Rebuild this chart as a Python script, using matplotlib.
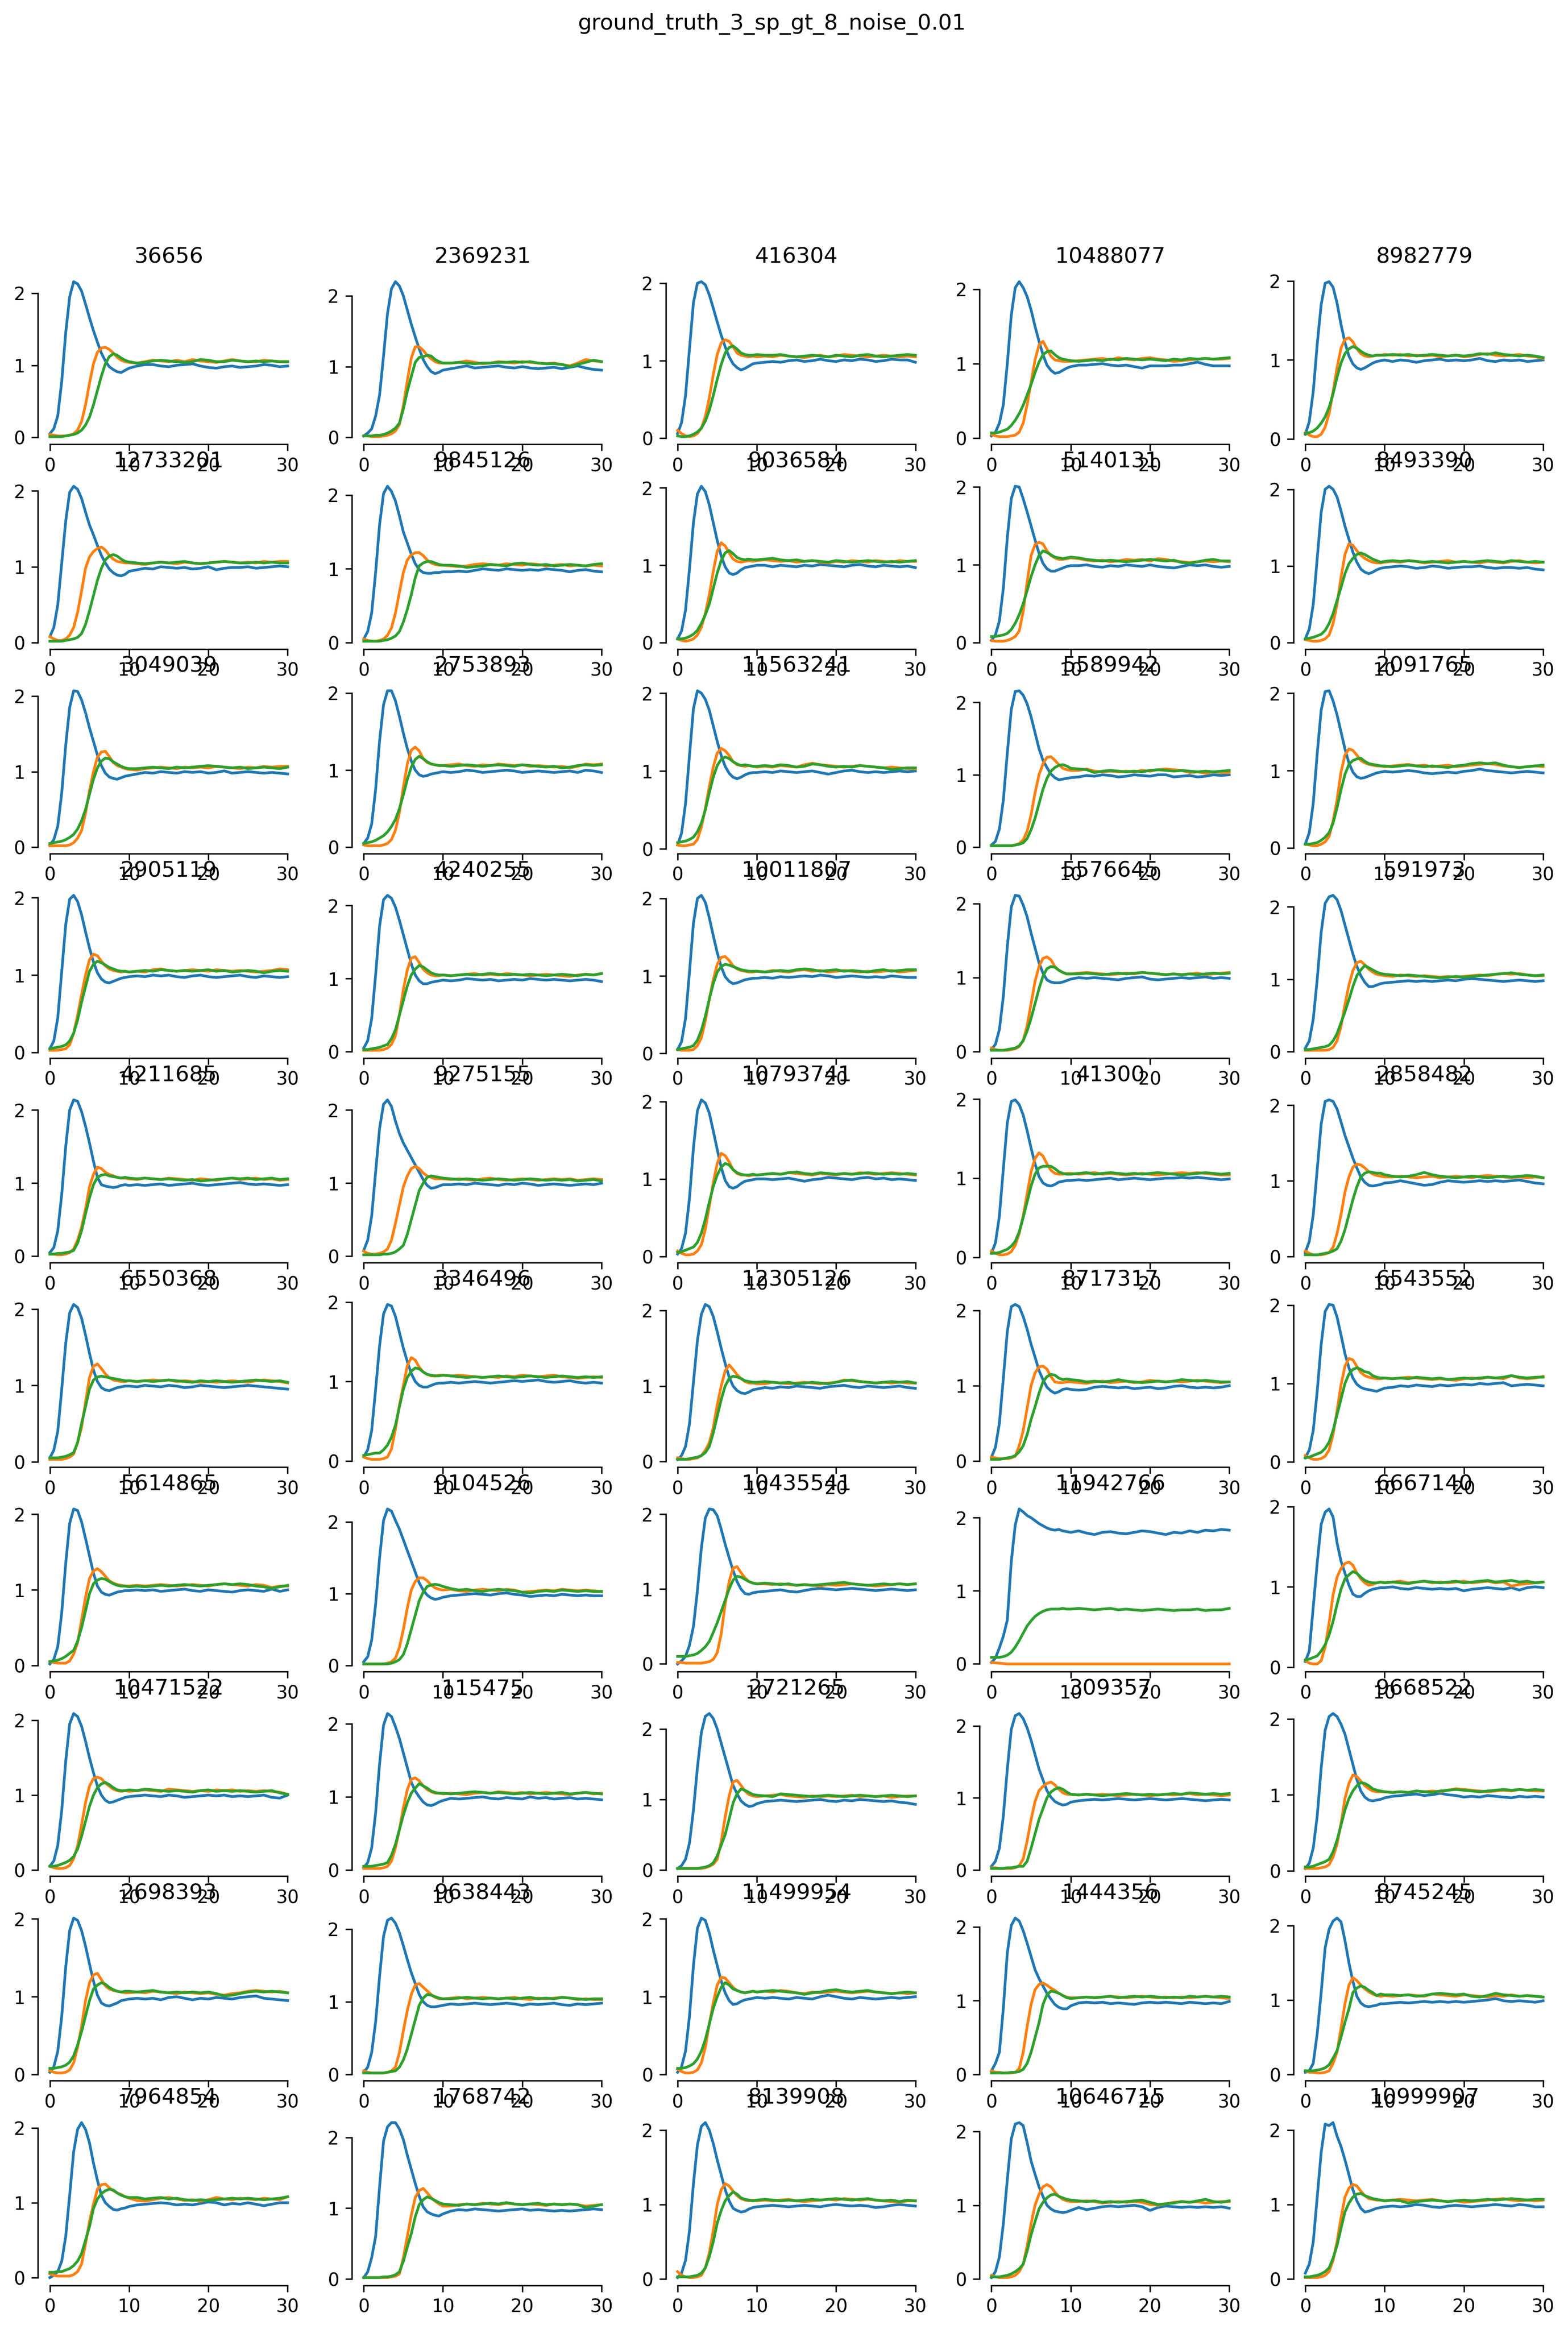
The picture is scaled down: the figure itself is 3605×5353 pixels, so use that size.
import matplotlib
matplotlib.use("Agg")
import matplotlib.pyplot as plt
import seaborn as sns

# ----------------- Data -----------------
titles = ["36656", "2369231", "416304", "10488077", "8982779",
          "12733201", "9845126", "9036584", "5140131", "8493390",
          "3049039", "2753893", "11563241", "5589942", "2091765",
          "2905119", "4240255", "10011807", "5576645", "591973",
          "4211685", "9275155", "10793741", "41300", "2858482",
          "6550368", "3346496", "12305126", "8717317", "6543552",
          "5614865", "9104526", "10435541", "11942766", "6667140",
          "10471522", "115475", "2721265", "309357", "9668522",
          "2698393", "9638443", "11499954", "1444356", "8745245",
          "7964854", "1768742", "8139908", "10646715", "10999907"]

# sample times: fine steps during the transient, then one per time unit
t_rise = [0, 0.5, 1, 1.5, 2, 2.5, 3, 3.5, 4, 4.5, 5, 5.5, 6, 6.5, 7, 7.5, 8, 8.5, 9, 9.5, 10]
t_tail = [11, 12, 13, 14, 15, 16, 17, 18, 19, 20, 21, 22, 23, 24, 25, 26, 27, 28, 29, 30]

blue_rise = [
    [0.05, 0.12, 0.3, 0.78, 1.45, 1.95, 2.16, 2.13, 2.03, 1.85, 1.66, 1.48, 1.32, 1.17, 1.06, 0.98, 0.94, 0.91, 0.90, 0.93, 0.96],
    [0.02, 0.06, 0.12, 0.3, 0.6, 1.15, 1.75, 2.1, 2.2, 2.14, 2.0, 1.8, 1.6, 1.42, 1.25, 1.1, 1.0, 0.93, 0.9, 0.92, 0.95],
    [0.06, 0.2, 0.55, 1.15, 1.75, 2.0, 2.02, 1.98, 1.85, 1.68, 1.5, 1.33, 1.18, 1.05, 0.96, 0.91, 0.88, 0.9, 0.93, 0.96, 0.97],
    [0.03, 0.08, 0.2, 0.45, 1.0, 1.65, 2.02, 2.1, 2.02, 1.9, 1.72, 1.5, 1.3, 1.12, 0.98, 0.91, 0.87, 0.88, 0.91, 0.94, 0.96],
    [0.06, 0.22, 0.6, 1.2, 1.7, 1.97, 1.99, 1.92, 1.72, 1.45, 1.22, 1.05, 0.95, 0.9, 0.88, 0.9, 0.93, 0.96, 0.98, 0.99, 1.0],
    [0.08, 0.2, 0.5, 1.05, 1.6, 1.98, 2.06, 2.02, 1.9, 1.72, 1.55, 1.42, 1.28, 1.15, 1.05, 0.97, 0.92, 0.89, 0.88, 0.9, 0.94],
    [0.05, 0.15, 0.4, 0.95, 1.6, 2.02, 2.12, 2.05, 1.92, 1.72, 1.5, 1.35, 1.2, 1.07, 0.99, 0.95, 0.94, 0.94, 0.95, 0.95, 0.96],
    [0.05, 0.15, 0.42, 0.95, 1.55, 1.92, 2.02, 1.95, 1.78, 1.55, 1.32, 1.12, 0.98, 0.9, 0.88, 0.9, 0.94, 0.97, 0.98, 0.99, 1.0],
    [0.03, 0.1, 0.28, 0.7, 1.35, 1.85, 2.01, 2.0, 1.85, 1.68, 1.5, 1.32, 1.15, 1.02, 0.95, 0.92, 0.92, 0.94, 0.96, 0.98, 0.99],
    [0.05, 0.18, 0.5, 1.1, 1.7, 2.0, 2.04, 2.0, 1.9, 1.72, 1.52, 1.35, 1.18, 1.05, 0.96, 0.92, 0.9, 0.92, 0.95, 0.97, 0.98],
    [0.03, 0.1, 0.28, 0.72, 1.35, 1.85, 2.07, 2.06, 1.95, 1.78, 1.58, 1.4, 1.22, 1.08, 0.98, 0.93, 0.91, 0.9, 0.92, 0.94, 0.95],
    [0.05, 0.12, 0.3, 0.75, 1.38, 1.85, 2.03, 2.03, 1.9, 1.7, 1.48, 1.28, 1.12, 1.0, 0.94, 0.92, 0.93, 0.95, 0.96, 0.97, 0.98],
    [0.05, 0.2, 0.58, 1.2, 1.8, 2.03, 2.0, 1.92, 1.78, 1.58, 1.38, 1.2, 1.06, 0.97, 0.92, 0.9, 0.92, 0.95, 0.97, 0.98, 0.98],
    [0.03, 0.08, 0.25, 0.65, 1.3, 1.9, 2.15, 2.16, 2.1, 1.98, 1.8, 1.58, 1.36, 1.2, 1.1, 1.01, 0.96, 0.93, 0.94, 0.95, 0.96],
    [0.05, 0.2, 0.58, 1.22, 1.78, 2.02, 2.03, 1.9, 1.72, 1.5, 1.28, 1.1, 0.98, 0.92, 0.9, 0.91, 0.93, 0.95, 0.97, 0.98, 0.99],
    [0.05, 0.15, 0.45, 1.05, 1.65, 1.98, 2.03, 1.95, 1.78, 1.56, 1.35, 1.17, 1.03, 0.95, 0.91, 0.9, 0.92, 0.94, 0.96, 0.97, 0.98],
    [0.05, 0.15, 0.45, 1.05, 1.72, 2.08, 2.14, 2.1, 1.98, 1.8, 1.6, 1.4, 1.2, 1.05, 0.97, 0.93, 0.93, 0.95, 0.96, 0.97, 0.98],
    [0.05, 0.15, 0.45, 1.05, 1.68, 2.0, 2.04, 1.95, 1.75, 1.52, 1.3, 1.12, 0.99, 0.93, 0.9, 0.91, 0.93, 0.95, 0.96, 0.97, 0.97],
    [0.03, 0.1, 0.3, 0.75, 1.42, 1.95, 2.11, 2.1, 1.98, 1.82, 1.6, 1.4, 1.2, 1.06, 0.97, 0.94, 0.93, 0.93, 0.94, 0.96, 0.98],
    [0.05, 0.15, 0.45, 1.0, 1.65, 2.05, 2.14, 2.16, 2.1, 1.95, 1.75, 1.55, 1.35, 1.18, 1.05, 0.96, 0.9, 0.9, 0.92, 0.94, 0.95],
    [0.05, 0.12, 0.35, 0.85, 1.5, 2.0, 2.14, 2.12, 1.98, 1.78, 1.55, 1.3, 1.08, 0.98, 0.96, 0.95, 0.94, 0.95, 0.97, 0.98, 0.97],
    [0.08, 0.22, 0.55, 1.15, 1.75, 2.08, 2.14, 2.05, 1.85, 1.68, 1.55, 1.45, 1.35, 1.25, 1.15, 1.05, 0.97, 0.93, 0.94, 0.96, 0.98],
    [0.03, 0.1, 0.3, 0.75, 1.4, 1.88, 2.02, 1.98, 1.85, 1.62, 1.38, 1.15, 0.98, 0.9, 0.88, 0.9, 0.94, 0.97, 0.98, 0.99, 1.0],
    [0.05, 0.18, 0.52, 1.12, 1.7, 1.97, 1.99, 1.93, 1.8, 1.6, 1.38, 1.18, 1.02, 0.94, 0.91, 0.9, 0.92, 0.95, 0.96, 0.97, 0.97],
    [0.05, 0.2, 0.55, 1.15, 1.75, 2.05, 2.07, 2.05, 1.95, 1.78, 1.6, 1.45, 1.3, 1.17, 1.05, 0.98, 0.94, 0.93, 0.94, 0.95, 0.97],
    [0.05, 0.15, 0.4, 0.95, 1.55, 1.95, 2.06, 2.02, 1.88, 1.66, 1.42, 1.2, 1.05, 0.97, 0.94, 0.93, 0.95, 0.97, 0.98, 0.99, 0.99],
    [0.05, 0.14, 0.38, 0.9, 1.45, 1.85, 1.97, 1.95, 1.82, 1.62, 1.42, 1.25, 1.1, 1.0, 0.95, 0.93, 0.93, 0.95, 0.97, 0.98, 0.98],
    [0.03, 0.08, 0.2, 0.5, 1.05, 1.6, 1.95, 2.08, 2.05, 1.92, 1.72, 1.5, 1.3, 1.12, 1.0, 0.94, 0.91, 0.9, 0.92, 0.95, 0.96],
    [0.05, 0.18, 0.5, 1.1, 1.72, 2.05, 2.08, 2.05, 1.92, 1.75, 1.55, 1.38, 1.2, 1.08, 0.98, 0.93, 0.9, 0.92, 0.95, 0.96, 0.95],
    [0.05, 0.15, 0.4, 0.9, 1.5, 1.92, 2.01, 2.0, 1.85, 1.62, 1.38, 1.2, 1.07, 0.99, 0.95, 0.93, 0.92, 0.91, 0.9, 0.92, 0.94],
    [0.02, 0.08, 0.25, 0.7, 1.35, 1.88, 2.07, 2.05, 1.9, 1.68, 1.45, 1.22, 1.05, 0.97, 0.94, 0.93, 0.95, 0.97, 0.98, 0.99, 0.99],
    [0.05, 0.12, 0.35, 0.85, 1.5, 2.02, 2.18, 2.15, 2.02, 1.9, 1.75, 1.6, 1.45, 1.3, 1.15, 1.05, 0.98, 0.94, 0.92, 0.93, 0.95],
    [0.0, 0.04, 0.1, 0.25, 0.5, 0.98, 1.55, 1.95, 2.07, 2.06, 1.98, 1.8, 1.6, 1.42, 1.25, 1.1, 1.0, 0.94, 0.93, 0.95, 0.96],
    [0.02, 0.08, 0.22, 0.38, 0.6, 1.4, 1.9, 2.12, 2.08, 2.03, 2.0, 1.96, 1.92, 1.89, 1.86, 1.84, 1.83, 1.84, 1.82, 1.81, 1.8],
    [0.07, 0.2, 0.75, 1.3, 1.78, 1.93, 1.97, 1.87, 1.55, 1.32, 1.17, 1.02, 0.91, 0.88, 0.88, 0.92, 0.95, 0.97, 0.98, 0.99, 0.99],
    [0.05, 0.12, 0.33, 0.8, 1.45, 1.95, 2.09, 2.05, 1.92, 1.72, 1.5, 1.3, 1.12, 1.0, 0.93, 0.9, 0.91, 0.93, 0.95, 0.97, 0.98],
    [0.03, 0.1, 0.3, 0.78, 1.45, 1.98, 2.14, 2.1, 1.96, 1.8, 1.6, 1.4, 1.2, 1.08, 1.0, 0.93, 0.89, 0.88, 0.9, 0.93, 0.95],
    [0.02, 0.06, 0.15, 0.38, 0.85, 1.45, 1.95, 2.18, 2.22, 2.15, 2.0, 1.8, 1.6, 1.4, 1.2, 1.08, 0.98, 0.93, 0.9, 0.91, 0.94],
    [0.05, 0.12, 0.3, 0.75, 1.4, 1.95, 2.14, 2.17, 2.1, 1.97, 1.8, 1.6, 1.4, 1.25, 1.1, 1.01, 0.95, 0.92, 0.9, 0.91, 0.94],
    [0.03, 0.1, 0.3, 0.72, 1.35, 1.85, 2.03, 2.07, 2.03, 1.93, 1.8, 1.6, 1.4, 1.2, 1.05, 0.97, 0.93, 0.92, 0.93, 0.94, 0.96],
    [0.03, 0.1, 0.3, 0.75, 1.38, 1.85, 2.01, 1.98, 1.85, 1.65, 1.42, 1.2, 1.02, 0.92, 0.89, 0.88, 0.9, 0.92, 0.95, 0.96, 0.97],
    [0.03, 0.1, 0.3, 0.72, 1.35, 1.9, 2.12, 2.15, 2.08, 1.95, 1.77, 1.58, 1.4, 1.25, 1.1, 1.0, 0.95, 0.93, 0.93, 0.94, 0.95],
    [0.03, 0.1, 0.3, 0.75, 1.4, 1.88, 2.01, 1.98, 1.82, 1.6, 1.4, 1.2, 1.05, 0.95, 0.9, 0.91, 0.94, 0.96, 0.97, 0.98, 0.99],
    [0.05, 0.15, 0.3, 0.9, 1.65, 2.02, 2.12, 2.08, 1.95, 1.78, 1.6, 1.42, 1.3, 1.2, 1.1, 1.02, 0.95, 0.91, 0.89, 0.89, 0.93],
    [0.03, 0.05, 0.15, 0.55, 1.1, 1.7, 1.95, 2.06, 2.1, 2.05, 1.8, 1.5, 1.25, 1.05, 0.96, 0.92, 0.91, 0.92, 0.93, 0.95, 0.95],
    [0.0, 0.03, 0.08, 0.22, 0.55, 1.1, 1.68, 1.98, 2.07, 1.98, 1.8, 1.53, 1.3, 1.1, 1.0, 0.95, 0.91, 0.9, 0.92, 0.93, 0.95],
    [0.02, 0.1, 0.3, 0.6, 1.3, 1.95, 2.15, 2.21, 2.21, 2.12, 1.97, 1.75, 1.55, 1.35, 1.17, 1.02, 0.95, 0.92, 0.9, 0.89, 0.92],
    [0.02, 0.08, 0.25, 0.65, 1.28, 1.8, 2.05, 2.1, 2.0, 1.82, 1.6, 1.4, 1.2, 1.05, 0.95, 0.92, 0.9, 0.91, 0.94, 0.96, 0.97],
    [0.02, 0.1, 0.3, 0.75, 1.35, 1.9, 2.1, 2.12, 2.08, 1.85, 1.6, 1.42, 1.25, 1.12, 1.0, 0.95, 0.92, 0.91, 0.9, 0.91, 0.93],
    [0.08, 0.2, 0.5, 1.1, 1.7, 2.08, 2.06, 2.1, 1.92, 1.78, 1.6, 1.4, 1.2, 1.05, 0.95, 0.9, 0.91, 0.93, 0.95, 0.96, 0.97],
]

blue_tail = [
    [0.99, 1.01, 1.01, 0.99, 0.98, 1.00, 1.01, 1.02, 0.99, 0.97, 0.96, 0.98, 0.99, 0.97, 0.98, 0.99, 1.01, 1.00, 0.98, 0.99],
    [0.97, 0.99, 1.01, 0.98, 0.99, 1.0, 1.01, 0.99, 0.98, 1.0, 0.98, 0.97, 0.98, 0.99, 0.97, 0.99, 1.01, 0.98, 0.96, 0.95],
    [0.98, 0.99, 0.98, 1.0, 1.01, 0.99, 1.0, 1.02, 1.0, 0.99, 1.01, 1.0, 1.02, 1.01, 0.99, 1.0, 1.02, 1.01, 1.01, 0.98],
    [0.98, 0.98, 0.99, 1.0, 0.98, 0.97, 0.98, 0.96, 0.94, 0.97, 0.97, 0.97, 0.98, 0.98, 1.0, 1.02, 0.99, 0.97, 0.97, 0.97],
    [0.98, 1.0, 0.99, 0.97, 0.99, 1.0, 1.01, 0.99, 1.0, 0.99, 1.0, 1.02, 0.99, 0.98, 1.0, 0.99, 1.0, 0.98, 0.99, 1.0],
    [0.96, 0.98, 0.97, 1.0, 0.99, 0.98, 0.99, 0.97, 0.98, 1.0, 0.96, 0.98, 0.99, 0.99, 1.0, 0.98, 0.99, 1.0, 1.01, 1.0],
    [0.96, 0.97, 0.96, 0.98, 1.0, 0.99, 0.98, 1.0, 0.99, 0.98, 0.99, 0.98, 1.0, 0.99, 0.98, 0.96, 0.98, 0.99, 0.97, 0.96],
    [1.0, 0.98, 1.0, 0.99, 0.98, 1.0, 0.99, 1.01, 1.0, 0.99, 0.98, 1.0, 1.01, 0.99, 0.98, 1.0, 0.99, 0.98, 0.99, 0.97],
    [0.99, 1.0, 0.98, 0.97, 0.99, 0.98, 1.0, 0.99, 0.98, 1.0, 0.98, 0.97, 0.96, 0.98, 1.0, 0.99, 1.0, 0.98, 0.97, 0.98],
    [0.99, 1.0, 0.99, 0.97, 0.98, 1.0, 0.99, 0.97, 0.98, 0.99, 0.99, 1.0, 0.98, 0.97, 0.98, 0.98, 0.97, 0.98, 0.96, 0.95],
    [0.97, 0.99, 0.98, 1.0, 0.99, 0.98, 1.0, 0.99, 1.0, 0.98, 0.99, 1.01, 0.98, 0.99, 1.0, 0.99, 0.98, 0.99, 0.98, 0.97],
    [0.97, 0.98, 1.0, 0.99, 0.97, 0.98, 0.99, 1.0, 0.99, 0.97, 0.98, 0.99, 0.98, 0.97, 0.98, 0.99, 0.97, 1.0, 0.99, 0.97],
    [0.99, 0.98, 1.0, 0.99, 0.98, 0.99, 1.0, 0.98, 0.96, 0.98, 1.0, 1.01, 0.99, 0.98, 0.99, 0.98, 0.99, 1.0, 0.99, 1.0],
    [0.97, 0.99, 0.98, 1.0, 0.99, 0.97, 0.98, 1.0, 0.99, 0.98, 1.0, 1.0, 0.97, 0.98, 0.99, 0.97, 0.98, 1.0, 0.99, 1.0],
    [0.98, 0.99, 1.0, 0.99, 0.97, 0.96, 0.97, 0.98, 0.97, 0.99, 1.0, 1.02, 1.0, 0.99, 0.98, 0.97, 0.98, 0.99, 0.98, 0.97],
    [0.99, 0.98, 1.0, 0.99, 1.0, 0.98, 0.97, 0.99, 1.0, 0.98, 0.97, 0.98, 0.99, 1.0, 0.98, 0.97, 0.99, 0.98, 0.97, 0.98],
    [0.97, 0.98, 1.0, 0.99, 0.98, 0.99, 0.97, 0.98, 0.99, 0.98, 1.0, 0.99, 0.98, 0.99, 0.98, 0.97, 0.98, 0.99, 0.98, 0.96],
    [0.98, 0.97, 0.99, 0.98, 0.99, 1.0, 0.99, 1.01, 1.0, 0.98, 0.99, 1.0, 0.99, 0.98, 0.99, 0.98, 1.0, 0.99, 0.98, 0.98],
    [1.0, 0.99, 1.0, 0.99, 0.98, 0.97, 0.99, 1.0, 1.01, 0.98, 0.97, 0.98, 0.99, 1.0, 0.99, 1.0, 1.01, 0.99, 1.0, 0.99],
    [0.96, 0.97, 0.98, 0.97, 0.98, 0.97, 0.98, 0.99, 0.98, 1.0, 1.01, 1.0, 0.99, 0.98, 0.97, 0.98, 0.99, 0.98, 0.97, 0.98],
    [0.98, 0.97, 0.98, 0.99, 0.97, 0.98, 0.99, 1.0, 0.98, 0.97, 0.98, 0.99, 1.0, 1.01, 0.99, 0.98, 0.99, 0.98, 0.97, 0.98],
    [0.98, 0.99, 0.98, 1.0, 0.99, 0.98, 0.97, 0.99, 0.98, 1.0, 0.99, 0.97, 0.98, 0.99, 0.98, 0.97, 0.98, 0.99, 0.98, 1.0],
    [1.0, 0.99, 1.0, 1.01, 0.99, 0.97, 0.99, 1.0, 1.02, 1.01, 1.0, 0.99, 1.01, 1.02, 1.0, 1.01, 0.99, 1.0, 0.99, 0.98],
    [0.98, 0.97, 0.98, 0.99, 1.0, 0.98, 0.99, 1.0, 0.99, 0.98, 0.99, 1.0, 1.0, 1.01, 1.0, 1.01, 1.0, 0.99, 0.98, 0.99],
    [0.98, 1.0, 0.98, 0.96, 0.94, 0.95, 0.98, 1.0, 0.99, 0.98, 0.99, 1.0, 0.99, 1.0, 0.99, 1.0, 1.01, 0.99, 0.97, 0.96],
    [0.98, 1.0, 0.99, 0.98, 1.0, 0.99, 0.97, 0.98, 1.0, 0.99, 0.98, 0.97, 0.98, 0.99, 1.0, 0.99, 0.98, 0.97, 0.96, 0.95],
    [0.99, 0.98, 0.99, 1.0, 0.99, 0.98, 0.99, 1.0, 1.01, 1.0, 1.01, 1.02, 1.0, 0.99, 1.0, 1.01, 0.99, 0.98, 0.99, 0.98],
    [0.98, 0.97, 0.99, 0.98, 1.0, 0.99, 0.98, 0.97, 0.99, 1.0, 1.01, 0.99, 0.98, 1.0, 0.99, 0.98, 0.99, 1.0, 0.98, 0.97],
    [0.94, 0.95, 0.98, 0.99, 0.98, 0.97, 0.98, 0.96, 0.97, 0.98, 0.96, 0.97, 0.99, 1.0, 0.98, 0.97, 0.98, 0.97, 0.98, 1.0],
    [0.95, 0.97, 0.96, 0.98, 0.97, 0.96, 0.98, 0.97, 0.98, 0.99, 0.98, 1.0, 0.99, 1.0, 1.01, 0.97, 0.98, 0.99, 0.98, 0.97],
    [1.0, 0.99, 1.0, 0.98, 0.99, 1.0, 1.01, 0.99, 0.98, 1.0, 0.99, 0.98, 0.97, 0.99, 1.0, 0.99, 0.98, 1.01, 0.98, 1.0],
    [0.97, 0.98, 0.99, 1.0, 0.99, 0.98, 1.0, 1.01, 0.99, 0.98, 0.96, 0.97, 0.98, 0.97, 0.99, 0.98, 0.97, 0.98, 0.97, 0.97],
    [0.97, 0.98, 0.99, 0.97, 0.96, 0.98, 1.0, 1.01, 1.0, 0.99, 1.0, 1.01, 1.0, 0.99, 0.98, 0.99, 1.0, 0.99, 0.98, 0.99],
    [1.82, 1.79, 1.77, 1.8, 1.81, 1.79, 1.78, 1.8, 1.82, 1.81, 1.79, 1.77, 1.8, 1.79, 1.82, 1.8, 1.83, 1.82, 1.84, 1.83],
    [1.0, 0.98, 0.97, 0.99, 0.98, 0.97, 0.98, 0.97, 0.98, 0.95, 0.97, 0.98, 0.99, 0.98, 0.97, 0.99, 0.96, 0.99, 1.0, 0.99],
    [0.99, 1.0, 0.99, 0.98, 1.0, 0.99, 0.97, 0.98, 0.99, 1.0, 0.99, 1.0, 0.98, 0.99, 0.98, 0.99, 1.0, 0.97, 0.96, 1.0],
    [0.98, 0.97, 0.98, 0.99, 1.0, 0.98, 0.97, 0.99, 0.98, 0.97, 1.0, 0.98, 0.99, 0.97, 0.98, 0.99, 0.97, 0.98, 0.97, 0.96],
    [0.97, 0.98, 0.99, 0.98, 0.97, 0.98, 0.99, 1.0, 0.98, 0.97, 0.99, 0.98, 1.0, 0.99, 0.98, 0.97, 0.98, 0.96, 0.95, 0.93],
    [0.96, 0.97, 0.98, 0.97, 0.98, 0.99, 0.98, 0.97, 0.98, 0.99, 0.98, 0.97, 0.98, 0.99, 0.98, 0.97, 0.96, 0.97, 0.98, 0.97],
    [0.98, 0.99, 1.0, 1.01, 0.99, 1.0, 1.02, 1.0, 0.99, 0.97, 0.98, 0.97, 0.99, 0.98, 0.97, 0.96, 0.98, 0.97, 0.98, 0.97],
    [0.98, 0.97, 0.98, 0.96, 0.99, 1.0, 0.98, 0.96, 0.98, 0.97, 0.99, 0.98, 0.97, 0.99, 1.0, 1.01, 0.98, 0.97, 0.96, 0.95],
    [0.97, 0.96, 0.97, 0.98, 0.97, 0.96, 0.97, 0.98, 0.97, 0.95, 0.97, 0.96, 0.97, 0.98, 0.96, 0.95, 0.97, 0.96, 0.97, 0.98],
    [0.98, 0.99, 0.98, 0.97, 0.99, 0.98, 0.97, 1.0, 1.02, 1.0, 0.98, 0.97, 0.99, 0.98, 0.97, 0.98, 0.99, 0.98, 0.99, 1.0],
    [0.97, 0.98, 0.97, 0.98, 0.96, 0.97, 0.96, 0.95, 0.97, 0.98, 0.97, 0.98, 0.97, 0.96, 0.98, 0.97, 0.96, 0.97, 0.96, 0.99],
    [0.96, 0.97, 0.96, 0.97, 0.98, 0.97, 0.98, 0.97, 0.98, 0.97, 0.98, 0.99, 1.0, 1.02, 0.99, 0.98, 0.99, 0.98, 0.97, 0.99],
    [0.97, 0.98, 0.99, 1.0, 0.99, 0.97, 0.98, 0.97, 0.99, 1.01, 1.0, 0.97, 0.99, 0.98, 1.0, 0.98, 0.96, 0.98, 1.0, 1.0],
    [0.96, 0.98, 0.97, 0.99, 0.98, 0.97, 0.96, 0.97, 0.98, 0.99, 0.97, 0.98, 0.97, 0.96, 0.97, 0.96, 0.97, 0.98, 0.99, 0.98],
    [0.98, 0.99, 0.98, 0.97, 0.98, 0.99, 0.98, 0.97, 0.99, 1.0, 0.99, 0.98, 0.99, 0.98, 0.96, 0.97, 0.99, 1.0, 0.99, 0.98],
    [0.97, 0.94, 0.96, 0.98, 0.99, 0.98, 0.99, 1.0, 0.98, 0.93, 0.97, 0.99, 0.98, 0.97, 0.98, 0.97, 0.98, 0.97, 0.98, 0.96],
    [0.98, 0.97, 0.98, 1.0, 0.99, 0.97, 0.96, 0.98, 0.99, 0.98, 0.97, 0.98, 0.99, 1.0, 0.99, 0.98, 1.0, 0.99, 0.97, 0.97],
]

orange_rise = [
    [0.04, 0.03, 0.02, 0.02, 0.02, 0.03, 0.05, 0.1, 0.22, 0.45, 0.75, 1.02, 1.18, 1.24, 1.25, 1.22, 1.17, 1.11, 1.07, 1.05, 1.04],
    [0.02, 0.02, 0.01, 0.01, 0.01, 0.02, 0.03, 0.05, 0.09, 0.18, 0.45, 0.8, 1.12, 1.28, 1.28, 1.23, 1.16, 1.11, 1.07, 1.05, 1.05],
    [0.1, 0.06, 0.03, 0.02, 0.03, 0.06, 0.13, 0.28, 0.52, 0.82, 1.08, 1.23, 1.27, 1.25, 1.18, 1.1, 1.07, 1.06, 1.05, 1.06, 1.05],
    [0.05, 0.03, 0.02, 0.02, 0.02, 0.03, 0.04, 0.08, 0.2, 0.45, 0.75, 1.05, 1.25, 1.3, 1.2, 1.1, 1.05, 1.04, 1.03, 1.03, 1.03],
    [0.08, 0.05, 0.03, 0.03, 0.06, 0.15, 0.32, 0.6, 0.9, 1.15, 1.26, 1.28, 1.23, 1.14, 1.08, 1.05, 1.04, 1.05, 1.06, 1.06, 1.07],
    [0.08, 0.05, 0.03, 0.03, 0.05, 0.1, 0.2, 0.4, 0.68, 0.98, 1.13, 1.2, 1.24, 1.26, 1.22, 1.15, 1.1, 1.07, 1.06, 1.05, 1.05],
    [0.05, 0.03, 0.02, 0.02, 0.03, 0.05, 0.1, 0.2, 0.4, 0.68, 0.95, 1.12, 1.19, 1.22, 1.22, 1.18, 1.12, 1.08, 1.06, 1.05, 1.05],
    [0.05, 0.03, 0.02, 0.03, 0.05, 0.1, 0.2, 0.38, 0.62, 0.92, 1.18, 1.29, 1.25, 1.16, 1.08, 1.05, 1.04, 1.05, 1.06, 1.05, 1.06],
    [0.03, 0.02, 0.02, 0.02, 0.03, 0.05, 0.08, 0.15, 0.4, 0.78, 1.12, 1.26, 1.29, 1.27, 1.18, 1.12, 1.09, 1.07, 1.07, 1.08, 1.09],
    [0.04, 0.03, 0.02, 0.02, 0.03, 0.05, 0.1, 0.25, 0.5, 0.85, 1.15, 1.29, 1.27, 1.2, 1.14, 1.1, 1.07, 1.05, 1.04, 1.04, 1.05],
    [0.02, 0.02, 0.02, 0.02, 0.02, 0.03, 0.06, 0.12, 0.22, 0.45, 0.75, 1.0, 1.19, 1.26, 1.27, 1.2, 1.12, 1.08, 1.06, 1.04, 1.03],
    [0.03, 0.02, 0.02, 0.02, 0.02, 0.03, 0.05, 0.1, 0.22, 0.45, 0.78, 1.08, 1.26, 1.3, 1.25, 1.15, 1.1, 1.08, 1.07, 1.06, 1.06],
    [0.05, 0.04, 0.04, 0.05, 0.06, 0.12, 0.28, 0.52, 0.8, 1.05, 1.23, 1.29, 1.26, 1.2, 1.12, 1.08, 1.07, 1.06, 1.07, 1.06, 1.05],
    [0.02, 0.02, 0.02, 0.02, 0.02, 0.02, 0.03, 0.05, 0.1, 0.22, 0.45, 0.75, 1.0, 1.15, 1.24, 1.25, 1.2, 1.14, 1.09, 1.07, 1.06],
    [0.05, 0.04, 0.03, 0.03, 0.05, 0.08, 0.15, 0.35, 0.62, 0.98, 1.2, 1.28, 1.26, 1.2, 1.13, 1.1, 1.08, 1.07, 1.06, 1.06, 1.05],
    [0.03, 0.03, 0.03, 0.04, 0.05, 0.1, 0.25, 0.48, 0.75, 1.0, 1.2, 1.27, 1.25, 1.18, 1.12, 1.08, 1.06, 1.05, 1.04, 1.05, 1.04],
    [0.02, 0.02, 0.02, 0.02, 0.02, 0.03, 0.05, 0.1, 0.22, 0.5, 0.85, 1.12, 1.28, 1.3, 1.22, 1.13, 1.08, 1.05, 1.04, 1.04, 1.05],
    [0.05, 0.04, 0.04, 0.04, 0.05, 0.1, 0.2, 0.42, 0.7, 0.95, 1.15, 1.24, 1.25, 1.2, 1.13, 1.09, 1.07, 1.06, 1.05, 1.05, 1.06],
    [0.05, 0.03, 0.02, 0.02, 0.02, 0.03, 0.04, 0.07, 0.15, 0.35, 0.65, 0.95, 1.15, 1.26, 1.28, 1.24, 1.15, 1.1, 1.07, 1.05, 1.05],
    [0.02, 0.02, 0.02, 0.02, 0.02, 0.02, 0.03, 0.06, 0.15, 0.35, 0.65, 0.92, 1.12, 1.23, 1.25, 1.2, 1.14, 1.1, 1.07, 1.06, 1.05],
    [0.03, 0.03, 0.02, 0.02, 0.03, 0.05, 0.1, 0.22, 0.4, 0.65, 0.95, 1.12, 1.22, 1.2, 1.15, 1.12, 1.1, 1.08, 1.07, 1.07, 1.06],
    [0.07, 0.04, 0.03, 0.03, 0.04, 0.06, 0.1, 0.22, 0.45, 0.7, 0.95, 1.1, 1.2, 1.23, 1.2, 1.14, 1.1, 1.08, 1.06, 1.06, 1.06],
    [0.07, 0.04, 0.02, 0.02, 0.03, 0.07, 0.15, 0.35, 0.65, 0.95, 1.2, 1.33, 1.3, 1.22, 1.12, 1.07, 1.05, 1.05, 1.04, 1.05, 1.05],
    [0.08, 0.05, 0.03, 0.03, 0.04, 0.07, 0.15, 0.3, 0.52, 0.8, 1.08, 1.25, 1.32, 1.28, 1.18, 1.1, 1.06, 1.05, 1.05, 1.06, 1.06],
    [0.07, 0.04, 0.02, 0.02, 0.02, 0.03, 0.05, 0.12, 0.3, 0.55, 0.85, 1.05, 1.18, 1.22, 1.21, 1.17, 1.12, 1.09, 1.07, 1.06, 1.05],
    [0.03, 0.03, 0.03, 0.03, 0.04, 0.06, 0.1, 0.25, 0.45, 0.78, 1.1, 1.25, 1.28, 1.22, 1.15, 1.1, 1.07, 1.06, 1.05, 1.05, 1.06],
    [0.05, 0.03, 0.02, 0.02, 0.02, 0.03, 0.05, 0.15, 0.4, 0.7, 0.95, 1.2, 1.3, 1.27, 1.18, 1.12, 1.09, 1.07, 1.07, 1.08, 1.08],
    [0.05, 0.04, 0.03, 0.03, 0.04, 0.05, 0.08, 0.15, 0.25, 0.45, 0.75, 1.0, 1.2, 1.28, 1.22, 1.15, 1.1, 1.06, 1.04, 1.04, 1.03],
    [0.05, 0.04, 0.03, 0.03, 0.03, 0.04, 0.06, 0.2, 0.4, 0.7, 1.0, 1.17, 1.25, 1.26, 1.22, 1.12, 1.05, 1.04, 1.04, 1.05, 1.05],
    [0.08, 0.05, 0.03, 0.03, 0.04, 0.07, 0.15, 0.35, 0.65, 0.98, 1.22, 1.32, 1.3, 1.22, 1.14, 1.1, 1.08, 1.07, 1.06, 1.06, 1.07],
    [0.05, 0.04, 0.03, 0.03, 0.03, 0.06, 0.15, 0.3, 0.6, 0.9, 1.15, 1.25, 1.28, 1.24, 1.18, 1.12, 1.09, 1.07, 1.06, 1.05, 1.05],
    [0.02, 0.02, 0.02, 0.02, 0.02, 0.02, 0.03, 0.05, 0.1, 0.25, 0.5, 0.8, 1.05, 1.17, 1.22, 1.22, 1.18, 1.12, 1.08, 1.06, 1.05],
    [0.02, 0.02, 0.01, 0.01, 0.01, 0.01, 0.01, 0.02, 0.03, 0.06, 0.15, 0.4, 0.8, 1.1, 1.28, 1.3, 1.22, 1.15, 1.1, 1.08, 1.07],
    [0.02, 0.015, 0.01, 0.005, 0.0, 0.0, 0.0, 0.0, 0.0, 0.0, 0.0, 0.0, 0.0, 0.0, 0.0, 0.0, 0.0, 0.0, 0.0, 0.0, 0.0],
    [0.08, 0.05, 0.04, 0.04, 0.08, 0.25, 0.55, 0.9, 1.12, 1.23, 1.29, 1.31, 1.27, 1.17, 1.1, 1.05, 1.02, 1.03, 1.05, 1.06, 1.05],
    [0.05, 0.03, 0.02, 0.02, 0.03, 0.06, 0.15, 0.32, 0.6, 0.9, 1.12, 1.22, 1.24, 1.22, 1.16, 1.12, 1.08, 1.06, 1.05, 1.06, 1.05],
    [0.02, 0.02, 0.02, 0.02, 0.02, 0.03, 0.05, 0.12, 0.3, 0.55, 0.85, 1.1, 1.24, 1.26, 1.22, 1.15, 1.1, 1.07, 1.05, 1.05, 1.04],
    [0.02, 0.02, 0.02, 0.02, 0.02, 0.02, 0.02, 0.03, 0.05, 0.08, 0.15, 0.4, 0.75, 1.05, 1.25, 1.27, 1.2, 1.12, 1.07, 1.05, 1.04],
    [0.03, 0.03, 0.02, 0.02, 0.02, 0.02, 0.03, 0.06, 0.15, 0.4, 0.7, 0.95, 1.1, 1.16, 1.2, 1.22, 1.18, 1.12, 1.07, 1.05, 1.05],
    [0.03, 0.03, 0.03, 0.03, 0.04, 0.05, 0.08, 0.18, 0.35, 0.62, 0.95, 1.15, 1.26, 1.24, 1.18, 1.12, 1.08, 1.05, 1.04, 1.04, 1.04],
    [0.05, 0.03, 0.02, 0.02, 0.03, 0.06, 0.15, 0.35, 0.62, 0.95, 1.18, 1.28, 1.3, 1.22, 1.14, 1.1, 1.08, 1.07, 1.06, 1.05, 1.05],
    [0.05, 0.03, 0.02, 0.02, 0.02, 0.02, 0.03, 0.05, 0.1, 0.3, 0.6, 0.88, 1.1, 1.23, 1.25, 1.2, 1.15, 1.1, 1.06, 1.04, 1.04],
    [0.07, 0.04, 0.02, 0.02, 0.03, 0.06, 0.15, 0.35, 0.65, 0.92, 1.15, 1.25, 1.24, 1.18, 1.12, 1.08, 1.06, 1.05, 1.06, 1.07, 1.06],
    [0.05, 0.03, 0.03, 0.02, 0.02, 0.02, 0.03, 0.08, 0.3, 0.65, 0.95, 1.15, 1.22, 1.24, 1.21, 1.17, 1.14, 1.1, 1.07, 1.05, 1.04],
    [0.05, 0.03, 0.03, 0.02, 0.02, 0.03, 0.05, 0.15, 0.3, 0.62, 0.95, 1.2, 1.3, 1.26, 1.2, 1.15, 1.11, 1.08, 1.06, 1.05, 1.06],
    [0.05, 0.03, 0.02, 0.02, 0.02, 0.02, 0.04, 0.08, 0.18, 0.45, 0.75, 0.98, 1.18, 1.24, 1.25, 1.2, 1.16, 1.13, 1.11, 1.08, 1.06],
    [0.02, 0.02, 0.02, 0.02, 0.02, 0.02, 0.02, 0.03, 0.04, 0.07, 0.3, 0.6, 0.9, 1.15, 1.25, 1.28, 1.22, 1.15, 1.1, 1.06, 1.03],
    [0.1, 0.05, 0.03, 0.02, 0.02, 0.03, 0.05, 0.15, 0.35, 0.65, 1.0, 1.2, 1.28, 1.25, 1.18, 1.12, 1.08, 1.06, 1.05, 1.06, 1.05],
    [0.05, 0.03, 0.02, 0.02, 0.02, 0.03, 0.05, 0.1, 0.2, 0.45, 0.75, 1.0, 1.15, 1.25, 1.28, 1.25, 1.18, 1.12, 1.08, 1.06, 1.05],
    [0.02, 0.02, 0.02, 0.02, 0.03, 0.05, 0.1, 0.25, 0.5, 0.82, 1.1, 1.22, 1.27, 1.25, 1.18, 1.12, 1.08, 1.07, 1.06, 1.06, 1.05],
]

orange_tail = [
    [1.03, 1.05, 1.07, 1.06, 1.05, 1.07, 1.05, 1.08, 1.06, 1.05, 1.04, 1.06, 1.08, 1.06, 1.05, 1.05, 1.07, 1.06, 1.05, 1.05],
    [1.05, 1.06, 1.08, 1.06, 1.04, 1.05, 1.07, 1.06, 1.05, 1.07, 1.06, 1.05, 1.04, 1.05, 1.03, 1.01, 1.05, 1.1, 1.08, 1.07],
    [1.06, 1.05, 1.07, 1.06, 1.05, 1.04, 1.06, 1.07, 1.05, 1.06, 1.08, 1.07, 1.06, 1.05, 1.06, 1.07, 1.06, 1.05, 1.06, 1.05],
    [1.04, 1.05, 1.06, 1.07, 1.05, 1.08, 1.06, 1.05, 1.07, 1.08, 1.06, 1.05, 1.03, 1.04, 1.05, 1.06, 1.07, 1.06, 1.06, 1.07],
    [1.06, 1.07, 1.05, 1.06, 1.05, 1.06, 1.04, 1.05, 1.06, 1.04, 1.05, 1.07, 1.08, 1.06, 1.05, 1.06, 1.07, 1.05, 1.04, 1.02],
    [1.04, 1.03, 1.05, 1.06, 1.05, 1.04, 1.06, 1.05, 1.04, 1.05, 1.06, 1.07, 1.06, 1.05, 1.06, 1.05, 1.07, 1.06, 1.07, 1.07],
    [1.04, 1.03, 1.04, 1.06, 1.07, 1.06, 1.05, 1.07, 1.06, 1.05, 1.07, 1.06, 1.04, 1.05, 1.06, 1.04, 1.05, 1.04, 1.05, 1.04],
    [1.07, 1.06, 1.05, 1.06, 1.04, 1.05, 1.06, 1.04, 1.03, 1.05, 1.04, 1.06, 1.05, 1.04, 1.06, 1.05, 1.04, 1.06, 1.05, 1.05],
    [1.08, 1.06, 1.05, 1.06, 1.04, 1.05, 1.07, 1.06, 1.07, 1.05, 1.08, 1.07, 1.05, 1.04, 1.03, 1.04, 1.05, 1.04, 1.05, 1.04],
    [1.06, 1.05, 1.07, 1.06, 1.04, 1.05, 1.06, 1.07, 1.05, 1.06, 1.05, 1.04, 1.06, 1.05, 1.04, 1.06, 1.07, 1.05, 1.04, 1.05],
    [1.02, 1.04, 1.05, 1.06, 1.05, 1.04, 1.06, 1.05, 1.06, 1.05, 1.07, 1.06, 1.05, 1.04, 1.06, 1.05, 1.07, 1.06, 1.07, 1.07],
    [1.07, 1.08, 1.06, 1.05, 1.07, 1.06, 1.08, 1.07, 1.06, 1.07, 1.05, 1.06, 1.05, 1.04, 1.05, 1.03, 1.05, 1.08, 1.07, 1.08],
    [1.06, 1.05, 1.07, 1.06, 1.05, 1.08, 1.1, 1.08, 1.07, 1.06, 1.05, 1.06, 1.07, 1.06, 1.05, 1.04, 1.05, 1.04, 1.03, 1.03],
    [1.06, 1.08, 1.05, 1.04, 1.05, 1.04, 1.05, 1.04, 1.06, 1.05, 1.07, 1.08, 1.07, 1.06, 1.03, 1.04, 1.02, 1.04, 1.03, 1.03],
    [1.06, 1.07, 1.08, 1.06, 1.07, 1.05, 1.06, 1.07, 1.05, 1.06, 1.07, 1.08, 1.09, 1.08, 1.06, 1.05, 1.04, 1.05, 1.06, 1.05],
    [1.05, 1.04, 1.07, 1.08, 1.06, 1.05, 1.06, 1.07, 1.06, 1.05, 1.07, 1.06, 1.05, 1.06, 1.05, 1.04, 1.05, 1.06, 1.08, 1.07],
    [1.04, 1.05, 1.06, 1.07, 1.05, 1.06, 1.05, 1.07, 1.06, 1.05, 1.04, 1.05, 1.06, 1.05, 1.04, 1.03, 1.05, 1.06, 1.05, 1.07],
    [1.05, 1.07, 1.06, 1.05, 1.07, 1.08, 1.06, 1.07, 1.05, 1.06, 1.07, 1.06, 1.05, 1.06, 1.05, 1.06, 1.07, 1.05, 1.06, 1.07],
    [1.06, 1.07, 1.06, 1.05, 1.04, 1.05, 1.06, 1.05, 1.07, 1.06, 1.05, 1.04, 1.05, 1.04, 1.05, 1.06, 1.04, 1.05, 1.06, 1.07],
    [1.04, 1.06, 1.05, 1.04, 1.05, 1.04, 1.03, 1.04, 1.03, 1.04, 1.05, 1.06, 1.05, 1.07, 1.08, 1.07, 1.08, 1.06, 1.05, 1.05],
    [1.05, 1.07, 1.06, 1.05, 1.07, 1.06, 1.05, 1.04, 1.06, 1.05, 1.04, 1.06, 1.07, 1.05, 1.06, 1.07, 1.05, 1.06, 1.04, 1.05],
    [1.05, 1.06, 1.05, 1.04, 1.06, 1.07, 1.05, 1.04, 1.05, 1.06, 1.05, 1.04, 1.05, 1.06, 1.05, 1.06, 1.04, 1.05, 1.06, 1.05],
    [1.06, 1.07, 1.06, 1.08, 1.07, 1.06, 1.05, 1.07, 1.06, 1.05, 1.07, 1.06, 1.08, 1.07, 1.06, 1.07, 1.08, 1.07, 1.06, 1.05],
    [1.05, 1.06, 1.07, 1.05, 1.06, 1.05, 1.04, 1.05, 1.06, 1.05, 1.04, 1.05, 1.06, 1.07, 1.06, 1.07, 1.06, 1.05, 1.04, 1.04],
    [1.05, 1.06, 1.05, 1.04, 1.05, 1.06, 1.04, 1.05, 1.06, 1.05, 1.04, 1.06, 1.07, 1.06, 1.05, 1.04, 1.05, 1.04, 1.05, 1.04],
    [1.05, 1.06, 1.07, 1.06, 1.07, 1.05, 1.06, 1.05, 1.04, 1.05, 1.04, 1.05, 1.06, 1.05, 1.04, 1.06, 1.07, 1.06, 1.05, 1.03],
    [1.07, 1.08, 1.07, 1.06, 1.05, 1.06, 1.05, 1.07, 1.06, 1.08, 1.07, 1.06, 1.07, 1.08, 1.06, 1.05, 1.04, 1.05, 1.06, 1.05],
    [1.03, 1.05, 1.04, 1.03, 1.04, 1.05, 1.04, 1.03, 1.04, 1.05, 1.08, 1.07, 1.06, 1.05, 1.04, 1.05, 1.04, 1.05, 1.04, 1.04],
    [1.04, 1.03, 1.05, 1.06, 1.04, 1.05, 1.06, 1.04, 1.05, 1.07, 1.06, 1.05, 1.06, 1.05, 1.06, 1.07, 1.06, 1.05, 1.04, 1.05],
    [1.06, 1.07, 1.08, 1.07, 1.06, 1.05, 1.06, 1.05, 1.04, 1.06, 1.07, 1.06, 1.08, 1.07, 1.06, 1.1, 1.07, 1.06, 1.07, 1.09],
    [1.06, 1.05, 1.06, 1.07, 1.06, 1.05, 1.06, 1.07, 1.06, 1.05, 1.07, 1.08, 1.07, 1.06, 1.05, 1.07, 1.06, 1.03, 1.05, 1.05],
    [1.06, 1.04, 1.03, 1.05, 1.06, 1.05, 1.04, 1.06, 1.05, 1.02, 1.03, 1.04, 1.05, 1.04, 1.06, 1.05, 1.04, 1.05, 1.04, 1.03],
    [1.07, 1.06, 1.07, 1.06, 1.05, 1.06, 1.05, 1.04, 1.06, 1.05, 1.06, 1.07, 1.06, 1.05, 1.04, 1.05, 1.06, 1.07, 1.06, 1.07],
    [0.0, 0.0, 0.0, 0.0, 0.0, 0.0, 0.0, 0.0, 0.0, 0.0, 0.0, 0.0, 0.0, 0.0, 0.0, 0.0, 0.0, 0.0, 0.0, 0.0],
    [1.06, 1.07, 1.05, 1.06, 1.07, 1.05, 1.06, 1.05, 1.06, 1.07, 1.05, 1.06, 1.07, 1.05, 1.06, 1.01, 1.03, 1.04, 1.05, 1.06],
    [1.06, 1.07, 1.06, 1.05, 1.08, 1.07, 1.06, 1.05, 1.06, 1.05, 1.07, 1.06, 1.07, 1.05, 1.06, 1.05, 1.06, 1.05, 1.04, 1.01],
    [1.05, 1.04, 1.03, 1.05, 1.06, 1.05, 1.07, 1.06, 1.05, 1.06, 1.04, 1.05, 1.06, 1.05, 1.04, 1.03, 1.05, 1.06, 1.04, 1.05],
    [1.05, 1.06, 1.07, 1.05, 1.04, 1.03, 1.05, 1.04, 1.05, 1.04, 1.05, 1.06, 1.04, 1.05, 1.04, 1.05, 1.03, 1.04, 1.05, 1.05],
    [1.04, 1.05, 1.04, 1.05, 1.04, 1.03, 1.04, 1.05, 1.04, 1.03, 1.04, 1.05, 1.04, 1.05, 1.06, 1.04, 1.05, 1.04, 1.03, 1.04],
    [1.03, 1.04, 1.03, 1.05, 1.04, 1.05, 1.04, 1.06, 1.08, 1.07, 1.06, 1.05, 1.04, 1.05, 1.06, 1.05, 1.07, 1.06, 1.05, 1.05],
    [1.06, 1.05, 1.07, 1.06, 1.05, 1.04, 1.06, 1.05, 1.04, 1.05, 1.03, 1.02, 1.04, 1.05, 1.07, 1.08, 1.07, 1.06, 1.07, 1.05],
    [1.05, 1.06, 1.04, 1.05, 1.06, 1.05, 1.04, 1.05, 1.06, 1.04, 1.03, 1.05, 1.04, 1.05, 1.06, 1.05, 1.03, 1.04, 1.03, 1.03],
    [1.07, 1.06, 1.08, 1.07, 1.05, 1.04, 1.06, 1.05, 1.06, 1.07, 1.06, 1.05, 1.06, 1.07, 1.06, 1.05, 1.04, 1.05, 1.04, 1.05],
    [1.04, 1.05, 1.04, 1.05, 1.06, 1.05, 1.04, 1.05, 1.06, 1.05, 1.04, 1.05, 1.04, 1.05, 1.04, 1.05, 1.06, 1.05, 1.04, 1.03],
    [1.05, 1.06, 1.07, 1.06, 1.05, 1.08, 1.07, 1.06, 1.05, 1.07, 1.06, 1.05, 1.04, 1.06, 1.05, 1.07, 1.05, 1.06, 1.05, 1.04],
    [1.03, 1.02, 1.04, 1.06, 1.07, 1.05, 1.03, 1.04, 1.02, 1.04, 1.07, 1.05, 1.04, 1.06, 1.05, 1.04, 1.06, 1.05, 1.04, 1.08],
    [1.03, 1.05, 1.06, 1.05, 1.07, 1.06, 1.05, 1.07, 1.06, 1.05, 1.06, 1.05, 1.04, 1.06, 1.05, 1.06, 1.05, 1.03, 1.04, 1.05],
    [1.06, 1.05, 1.06, 1.07, 1.05, 1.04, 1.05, 1.06, 1.07, 1.06, 1.08, 1.07, 1.06, 1.07, 1.06, 1.05, 1.04, 1.03, 1.05, 1.05],
    [1.05, 1.06, 1.05, 1.03, 1.04, 1.05, 1.04, 1.05, 1.04, 1.01, 1.0, 1.02, 1.04, 1.05, 1.04, 1.05, 1.03, 1.04, 1.05, 1.05],
    [1.06, 1.07, 1.06, 1.05, 1.06, 1.07, 1.05, 1.04, 1.05, 1.03, 1.04, 1.05, 1.06, 1.07, 1.08, 1.06, 1.05, 1.06, 1.05, 1.06],
]

green_rise = [
    [0.01, 0.01, 0.01, 0.01, 0.02, 0.03, 0.04, 0.06, 0.1, 0.17, 0.28, 0.45, 0.65, 0.85, 1.02, 1.12, 1.16, 1.14, 1.1, 1.07, 1.05],
    [0.02, 0.02, 0.02, 0.03, 0.03, 0.04, 0.06, 0.09, 0.13, 0.2, 0.4, 0.65, 0.86, 1.06, 1.13, 1.14, 1.16, 1.15, 1.1, 1.07, 1.05],
    [0.03, 0.02, 0.02, 0.03, 0.05, 0.08, 0.13, 0.22, 0.36, 0.55, 0.76, 0.95, 1.1, 1.17, 1.19, 1.15, 1.1, 1.08, 1.07, 1.07, 1.08],
    [0.07, 0.07, 0.08, 0.1, 0.12, 0.17, 0.24, 0.33, 0.44, 0.58, 0.72, 0.88, 1.02, 1.12, 1.16, 1.17, 1.12, 1.08, 1.06, 1.05, 1.04],
    [0.07, 0.08, 0.1, 0.14, 0.2, 0.28, 0.4, 0.57, 0.78, 0.96, 1.08, 1.14, 1.17, 1.15, 1.11, 1.08, 1.06, 1.05, 1.06, 1.06, 1.06],
    [0.02, 0.02, 0.02, 0.02, 0.03, 0.04, 0.05, 0.07, 0.12, 0.24, 0.42, 0.62, 0.82, 0.98, 1.09, 1.14, 1.16, 1.14, 1.1, 1.07, 1.06],
    [0.02, 0.02, 0.02, 0.02, 0.02, 0.03, 0.04, 0.06, 0.09, 0.15, 0.28, 0.45, 0.65, 0.88, 1.04, 1.08, 1.1, 1.1, 1.08, 1.06, 1.05],
    [0.05, 0.05, 0.06, 0.08, 0.11, 0.16, 0.25, 0.36, 0.5, 0.7, 0.9, 1.06, 1.16, 1.19, 1.15, 1.1, 1.08, 1.07, 1.08, 1.07, 1.07],
    [0.08, 0.08, 0.09, 0.1, 0.12, 0.17, 0.25, 0.36, 0.5, 0.67, 0.85, 1.0, 1.12, 1.18, 1.16, 1.13, 1.1, 1.09, 1.08, 1.09, 1.1],
    [0.05, 0.06, 0.07, 0.09, 0.11, 0.16, 0.25, 0.38, 0.55, 0.72, 0.9, 1.03, 1.1, 1.15, 1.17, 1.15, 1.12, 1.09, 1.07, 1.05, 1.06],
    [0.05, 0.06, 0.07, 0.08, 0.1, 0.13, 0.17, 0.24, 0.35, 0.5, 0.7, 0.9, 1.05, 1.14, 1.18, 1.17, 1.13, 1.1, 1.07, 1.05, 1.04],
    [0.05, 0.06, 0.07, 0.09, 0.12, 0.15, 0.2, 0.27, 0.36, 0.5, 0.68, 0.88, 1.04, 1.14, 1.18, 1.15, 1.11, 1.08, 1.07, 1.06, 1.06],
    [0.08, 0.09, 0.1, 0.12, 0.15, 0.22, 0.33, 0.5, 0.72, 0.92, 1.07, 1.15, 1.18, 1.16, 1.12, 1.09, 1.07, 1.08, 1.07, 1.06, 1.06],
    [0.02, 0.02, 0.02, 0.02, 0.02, 0.02, 0.03, 0.04, 0.06, 0.12, 0.24, 0.4, 0.6, 0.8, 0.95, 1.05, 1.1, 1.13, 1.14, 1.12, 1.09],
    [0.05, 0.05, 0.06, 0.07, 0.1, 0.14, 0.2, 0.32, 0.52, 0.75, 0.95, 1.08, 1.13, 1.15, 1.16, 1.12, 1.09, 1.08, 1.07, 1.06, 1.06],
    [0.05, 0.06, 0.07, 0.08, 0.1, 0.15, 0.25, 0.42, 0.65, 0.85, 1.05, 1.14, 1.18, 1.16, 1.13, 1.1, 1.08, 1.06, 1.05, 1.05, 1.04],
    [0.03, 0.03, 0.04, 0.05, 0.06, 0.08, 0.1, 0.18, 0.3, 0.5, 0.7, 0.9, 1.05, 1.13, 1.18, 1.16, 1.12, 1.08, 1.06, 1.05, 1.05],
    [0.05, 0.06, 0.07, 0.08, 0.1, 0.17, 0.3, 0.48, 0.7, 0.9, 1.05, 1.12, 1.15, 1.14, 1.12, 1.1, 1.08, 1.07, 1.06, 1.06, 1.06],
    [0.02, 0.02, 0.02, 0.02, 0.03, 0.04, 0.05, 0.08, 0.15, 0.28, 0.45, 0.65, 0.85, 1.02, 1.12, 1.15, 1.14, 1.1, 1.07, 1.05, 1.05],
    [0.03, 0.03, 0.04, 0.05, 0.06, 0.07, 0.09, 0.15, 0.25, 0.4, 0.55, 0.72, 0.9, 1.05, 1.13, 1.19, 1.16, 1.13, 1.1, 1.08, 1.07],
    [0.03, 0.03, 0.04, 0.04, 0.05, 0.06, 0.08, 0.18, 0.35, 0.58, 0.8, 0.98, 1.08, 1.11, 1.12, 1.1, 1.09, 1.08, 1.07, 1.08, 1.07],
    [0.02, 0.02, 0.02, 0.02, 0.02, 0.03, 0.03, 0.04, 0.06, 0.1, 0.15, 0.3, 0.5, 0.7, 0.9, 1.0, 1.08, 1.1, 1.09, 1.08, 1.07],
    [0.05, 0.06, 0.08, 0.1, 0.12, 0.18, 0.3, 0.48, 0.7, 0.9, 1.05, 1.15, 1.2, 1.18, 1.12, 1.08, 1.06, 1.05, 1.05, 1.06, 1.05],
    [0.05, 0.05, 0.06, 0.08, 0.1, 0.14, 0.2, 0.32, 0.5, 0.7, 0.9, 1.05, 1.13, 1.15, 1.15, 1.15, 1.12, 1.08, 1.06, 1.05, 1.05],
    [0.02, 0.02, 0.02, 0.02, 0.03, 0.04, 0.05, 0.07, 0.1, 0.2, 0.35, 0.55, 0.75, 0.92, 1.05, 1.1, 1.12, 1.11, 1.1, 1.1, 1.08],
    [0.05, 0.05, 0.05, 0.06, 0.07, 0.09, 0.12, 0.25, 0.5, 0.72, 0.95, 1.07, 1.11, 1.12, 1.11, 1.1, 1.09, 1.08, 1.07, 1.06, 1.06],
    [0.07, 0.08, 0.09, 0.1, 0.1, 0.14, 0.2, 0.3, 0.45, 0.68, 0.9, 1.05, 1.13, 1.17, 1.16, 1.12, 1.09, 1.08, 1.07, 1.07, 1.08],
    [0.03, 0.03, 0.03, 0.04, 0.05, 0.06, 0.08, 0.12, 0.2, 0.38, 0.6, 0.82, 1.0, 1.1, 1.13, 1.12, 1.1, 1.07, 1.06, 1.05, 1.05],
    [0.02, 0.02, 0.02, 0.03, 0.04, 0.05, 0.07, 0.12, 0.2, 0.35, 0.55, 0.72, 0.9, 1.05, 1.12, 1.15, 1.14, 1.1, 1.08, 1.09, 1.08],
    [0.05, 0.06, 0.08, 0.1, 0.12, 0.17, 0.25, 0.4, 0.6, 0.8, 1.0, 1.12, 1.18, 1.2, 1.18, 1.15, 1.14, 1.1, 1.08, 1.07, 1.07],
    [0.05, 0.06, 0.07, 0.09, 0.12, 0.16, 0.2, 0.32, 0.5, 0.72, 0.95, 1.08, 1.13, 1.15, 1.14, 1.11, 1.08, 1.06, 1.05, 1.05, 1.04],
    [0.02, 0.02, 0.02, 0.02, 0.02, 0.02, 0.02, 0.03, 0.05, 0.08, 0.15, 0.3, 0.5, 0.7, 0.9, 1.02, 1.1, 1.12, 1.13, 1.12, 1.1],
    [0.1, 0.1, 0.1, 0.11, 0.12, 0.14, 0.18, 0.23, 0.3, 0.42, 0.55, 0.7, 0.85, 1.0, 1.12, 1.17, 1.16, 1.13, 1.1, 1.08, 1.07],
    [0.09, 0.09, 0.09, 0.1, 0.12, 0.16, 0.23, 0.32, 0.42, 0.52, 0.59, 0.65, 0.69, 0.72, 0.74, 0.75, 0.75, 0.75, 0.76, 0.75, 0.75],
    [0.09, 0.1, 0.12, 0.14, 0.2, 0.28, 0.4, 0.57, 0.78, 0.97, 1.1, 1.15, 1.19, 1.17, 1.12, 1.08, 1.06, 1.05, 1.05, 1.06, 1.05],
    [0.05, 0.05, 0.06, 0.08, 0.1, 0.13, 0.18, 0.28, 0.45, 0.65, 0.85, 1.0, 1.1, 1.15, 1.17, 1.14, 1.1, 1.07, 1.06, 1.06, 1.07],
    [0.05, 0.05, 0.05, 0.06, 0.07, 0.08, 0.1, 0.2, 0.35, 0.55, 0.75, 0.92, 1.05, 1.12, 1.18, 1.15, 1.12, 1.08, 1.06, 1.05, 1.05],
    [0.02, 0.02, 0.02, 0.02, 0.02, 0.02, 0.03, 0.04, 0.06, 0.1, 0.2, 0.35, 0.5, 0.72, 0.95, 1.08, 1.15, 1.13, 1.1, 1.07, 1.06],
    [0.02, 0.02, 0.02, 0.02, 0.03, 0.03, 0.04, 0.05, 0.05, 0.12, 0.3, 0.5, 0.7, 0.85, 1.0, 1.08, 1.12, 1.14, 1.12, 1.08, 1.05],
    [0.05, 0.05, 0.06, 0.08, 0.1, 0.12, 0.15, 0.25, 0.4, 0.6, 0.8, 0.95, 1.05, 1.12, 1.16, 1.15, 1.12, 1.08, 1.06, 1.05, 1.04],
    [0.08, 0.08, 0.09, 0.1, 0.12, 0.16, 0.24, 0.38, 0.55, 0.75, 0.95, 1.1, 1.15, 1.18, 1.16, 1.12, 1.09, 1.07, 1.06, 1.07, 1.07],
    [0.02, 0.02, 0.02, 0.02, 0.02, 0.02, 0.03, 0.04, 0.05, 0.1, 0.2, 0.35, 0.55, 0.75, 0.95, 1.05, 1.1, 1.09, 1.07, 1.05, 1.04],
    [0.08, 0.08, 0.09, 0.11, 0.14, 0.2, 0.3, 0.45, 0.65, 0.85, 1.0, 1.12, 1.18, 1.15, 1.1, 1.08, 1.06, 1.05, 1.06, 1.07, 1.06],
    [0.02, 0.02, 0.02, 0.02, 0.02, 0.03, 0.03, 0.04, 0.07, 0.15, 0.3, 0.5, 0.7, 0.95, 1.08, 1.13, 1.12, 1.1, 1.07, 1.04, 1.03],
    [0.05, 0.05, 0.05, 0.06, 0.07, 0.09, 0.13, 0.22, 0.32, 0.5, 0.7, 0.88, 1.1, 1.16, 1.19, 1.17, 1.13, 1.1, 1.06, 1.08, 1.07],
    [0.07, 0.07, 0.08, 0.08, 0.1, 0.12, 0.16, 0.22, 0.32, 0.5, 0.68, 0.92, 1.05, 1.12, 1.16, 1.18, 1.17, 1.13, 1.1, 1.08, 1.07],
    [0.02, 0.02, 0.02, 0.02, 0.02, 0.03, 0.03, 0.04, 0.06, 0.1, 0.25, 0.45, 0.64, 0.88, 1.05, 1.12, 1.16, 1.14, 1.11, 1.08, 1.06],
    [0.03, 0.03, 0.03, 0.03, 0.04, 0.05, 0.08, 0.15, 0.3, 0.5, 0.75, 0.92, 1.05, 1.12, 1.17, 1.14, 1.09, 1.07, 1.06, 1.05, 1.06],
    [0.03, 0.03, 0.03, 0.04, 0.05, 0.07, 0.1, 0.14, 0.2, 0.38, 0.6, 0.78, 0.95, 1.04, 1.1, 1.14, 1.15, 1.12, 1.1, 1.08, 1.07],
    [0.03, 0.03, 0.04, 0.05, 0.07, 0.1, 0.15, 0.28, 0.45, 0.68, 0.9, 1.02, 1.1, 1.14, 1.15, 1.12, 1.1, 1.08, 1.07, 1.06, 1.05],
]

green_tail = [
    [1.03, 1.04, 1.06, 1.07, 1.06, 1.05, 1.04, 1.05, 1.08, 1.07, 1.05, 1.05, 1.07, 1.06, 1.05, 1.06, 1.05, 1.06, 1.05, 1.05],
    [1.05, 1.06, 1.05, 1.04, 1.05, 1.05, 1.06, 1.06, 1.07, 1.06, 1.07, 1.05, 1.04, 1.04, 1.03, 1.0, 1.03, 1.06, 1.09, 1.07],
    [1.07, 1.07, 1.08, 1.06, 1.05, 1.06, 1.07, 1.06, 1.05, 1.07, 1.06, 1.05, 1.07, 1.08, 1.06, 1.05, 1.06, 1.07, 1.08, 1.07],
    [1.03, 1.04, 1.05, 1.04, 1.06, 1.05, 1.07, 1.06, 1.05, 1.06, 1.05, 1.04, 1.06, 1.05, 1.07, 1.06, 1.07, 1.06, 1.07, 1.08],
    [1.07, 1.06, 1.07, 1.05, 1.06, 1.07, 1.06, 1.05, 1.06, 1.05, 1.06, 1.08, 1.07, 1.09, 1.07, 1.06, 1.05, 1.06, 1.05, 1.03],
    [1.05, 1.04, 1.05, 1.06, 1.05, 1.06, 1.07, 1.05, 1.04, 1.05, 1.06, 1.07, 1.06, 1.05, 1.05, 1.06, 1.05, 1.06, 1.05, 1.05],
    [1.05, 1.04, 1.02, 1.03, 1.04, 1.06, 1.05, 1.04, 1.07, 1.08, 1.06, 1.05, 1.06, 1.04, 1.05, 1.06, 1.05, 1.04, 1.06, 1.07],
    [1.08, 1.09, 1.07, 1.06, 1.07, 1.05, 1.06, 1.05, 1.04, 1.06, 1.05, 1.04, 1.05, 1.06, 1.05, 1.04, 1.05, 1.04, 1.05, 1.06],
    [1.09, 1.07, 1.06, 1.05, 1.06, 1.05, 1.04, 1.05, 1.06, 1.07, 1.06, 1.05, 1.06, 1.03, 1.02, 1.04, 1.06, 1.07, 1.05, 1.05],
    [1.07, 1.06, 1.07, 1.06, 1.05, 1.06, 1.05, 1.04, 1.05, 1.06, 1.05, 1.06, 1.07, 1.06, 1.05, 1.07, 1.06, 1.05, 1.06, 1.05],
    [1.04, 1.05, 1.06, 1.05, 1.04, 1.06, 1.05, 1.06, 1.07, 1.08, 1.07, 1.06, 1.05, 1.06, 1.04, 1.05, 1.06, 1.05, 1.04, 1.06],
    [1.05, 1.06, 1.07, 1.06, 1.05, 1.06, 1.07, 1.06, 1.05, 1.07, 1.06, 1.05, 1.04, 1.05, 1.03, 1.04, 1.06, 1.07, 1.06, 1.07],
    [1.07, 1.06, 1.08, 1.07, 1.05, 1.06, 1.09, 1.08, 1.06, 1.05, 1.06, 1.05, 1.07, 1.06, 1.05, 1.04, 1.02, 1.03, 1.04, 1.04],
    [1.08, 1.07, 1.03, 1.05, 1.06, 1.05, 1.04, 1.05, 1.04, 1.06, 1.07, 1.06, 1.05, 1.06, 1.05, 1.04, 1.05, 1.04, 1.05, 1.06],
    [1.05, 1.06, 1.07, 1.06, 1.05, 1.06, 1.05, 1.04, 1.06, 1.07, 1.09, 1.1, 1.09, 1.1, 1.07, 1.05, 1.04, 1.05, 1.06, 1.07],
    [1.05, 1.06, 1.05, 1.07, 1.06, 1.05, 1.06, 1.05, 1.06, 1.07, 1.05, 1.06, 1.04, 1.05, 1.06, 1.05, 1.03, 1.05, 1.06, 1.05],
    [1.04, 1.05, 1.06, 1.05, 1.06, 1.07, 1.06, 1.05, 1.06, 1.05, 1.06, 1.05, 1.04, 1.05, 1.06, 1.05, 1.04, 1.06, 1.05, 1.07],
    [1.05, 1.06, 1.07, 1.06, 1.08, 1.09, 1.08, 1.06, 1.07, 1.08, 1.06, 1.07, 1.06, 1.05, 1.07, 1.08, 1.06, 1.07, 1.08, 1.08],
    [1.05, 1.06, 1.05, 1.04, 1.05, 1.06, 1.05, 1.06, 1.07, 1.06, 1.05, 1.04, 1.05, 1.04, 1.05, 1.04, 1.05, 1.06, 1.05, 1.06],
    [1.06, 1.05, 1.06, 1.05, 1.04, 1.03, 1.02, 1.03, 1.04, 1.03, 1.04, 1.05, 1.06, 1.07, 1.08, 1.09, 1.07, 1.06, 1.05, 1.06],
    [1.06, 1.07, 1.06, 1.05, 1.06, 1.05, 1.04, 1.05, 1.03, 1.04, 1.05, 1.06, 1.07, 1.06, 1.07, 1.05, 1.06, 1.07, 1.05, 1.06],
    [1.06, 1.05, 1.06, 1.05, 1.04, 1.05, 1.06, 1.05, 1.04, 1.05, 1.06, 1.05, 1.04, 1.05, 1.04, 1.05, 1.03, 1.04, 1.05, 1.03],
    [1.06, 1.07, 1.06, 1.08, 1.09, 1.07, 1.06, 1.08, 1.07, 1.06, 1.07, 1.06, 1.07, 1.08, 1.07, 1.06, 1.07, 1.06, 1.07, 1.06],
    [1.06, 1.07, 1.05, 1.06, 1.07, 1.06, 1.05, 1.06, 1.05, 1.06, 1.07, 1.06, 1.05, 1.04, 1.05, 1.06, 1.07, 1.06, 1.05, 1.06],
    [1.06, 1.05, 1.06, 1.08, 1.11, 1.08, 1.06, 1.05, 1.04, 1.05, 1.06, 1.05, 1.04, 1.05, 1.06, 1.05, 1.06, 1.07, 1.06, 1.04],
    [1.05, 1.06, 1.05, 1.06, 1.07, 1.06, 1.05, 1.04, 1.06, 1.05, 1.06, 1.05, 1.04, 1.05, 1.06, 1.07, 1.06, 1.05, 1.06, 1.04],
    [1.07, 1.06, 1.05, 1.06, 1.05, 1.06, 1.07, 1.06, 1.05, 1.06, 1.07, 1.06, 1.05, 1.06, 1.07, 1.06, 1.05, 1.06, 1.05, 1.06],
    [1.06, 1.05, 1.04, 1.05, 1.03, 1.04, 1.05, 1.04, 1.03, 1.05, 1.07, 1.08, 1.06, 1.05, 1.04, 1.05, 1.06, 1.05, 1.06, 1.04],
    [1.07, 1.05, 1.06, 1.05, 1.06, 1.08, 1.06, 1.05, 1.04, 1.05, 1.06, 1.05, 1.06, 1.08, 1.07, 1.06, 1.07, 1.06, 1.05, 1.05],
    [1.06, 1.07, 1.06, 1.08, 1.07, 1.06, 1.07, 1.05, 1.06, 1.07, 1.06, 1.07, 1.08, 1.07, 1.08, 1.1, 1.08, 1.07, 1.08, 1.08],
    [1.05, 1.04, 1.05, 1.06, 1.05, 1.06, 1.07, 1.06, 1.05, 1.06, 1.07, 1.08, 1.07, 1.08, 1.07, 1.05, 1.04, 1.02, 1.04, 1.06],
    [1.07, 1.05, 1.06, 1.04, 1.03, 1.05, 1.06, 1.05, 1.04, 1.02, 1.01, 1.03, 1.04, 1.03, 1.05, 1.04, 1.03, 1.04, 1.03, 1.03],
    [1.08, 1.07, 1.06, 1.07, 1.05, 1.06, 1.05, 1.06, 1.07, 1.08, 1.09, 1.07, 1.06, 1.05, 1.06, 1.07, 1.06, 1.07, 1.06, 1.07],
    [0.76, 0.75, 0.74, 0.75, 0.76, 0.74, 0.75, 0.74, 0.73, 0.74, 0.75, 0.74, 0.73, 0.74, 0.74, 0.75, 0.73, 0.74, 0.74, 0.76],
    [1.06, 1.05, 1.04, 1.06, 1.07, 1.06, 1.05, 1.06, 1.07, 1.05, 1.06, 1.07, 1.08, 1.06, 1.07, 1.08, 1.06, 1.07, 1.05, 1.06],
    [1.06, 1.08, 1.07, 1.06, 1.05, 1.06, 1.05, 1.04, 1.06, 1.07, 1.05, 1.06, 1.05, 1.06, 1.05, 1.04, 1.05, 1.06, 1.03, 1.01],
    [1.04, 1.05, 1.06, 1.07, 1.06, 1.05, 1.06, 1.05, 1.04, 1.05, 1.06, 1.05, 1.04, 1.05, 1.06, 1.04, 1.05, 1.06, 1.05, 1.04],
    [1.05, 1.04, 1.08, 1.07, 1.06, 1.05, 1.04, 1.05, 1.06, 1.05, 1.04, 1.05, 1.06, 1.05, 1.04, 1.05, 1.06, 1.05, 1.04, 1.05],
    [1.04, 1.05, 1.04, 1.03, 1.04, 1.05, 1.06, 1.05, 1.04, 1.05, 1.04, 1.05, 1.06, 1.05, 1.07, 1.06, 1.05, 1.06, 1.05, 1.06],
    [1.03, 1.04, 1.03, 1.05, 1.04, 1.03, 1.05, 1.06, 1.07, 1.06, 1.05, 1.04, 1.05, 1.06, 1.07, 1.06, 1.07, 1.06, 1.07, 1.06],
    [1.06, 1.07, 1.08, 1.06, 1.05, 1.06, 1.05, 1.06, 1.05, 1.06, 1.04, 1.01, 1.02, 1.04, 1.06, 1.07, 1.06, 1.07, 1.06, 1.05],
    [1.04, 1.05, 1.06, 1.05, 1.04, 1.05, 1.04, 1.05, 1.04, 1.05, 1.06, 1.04, 1.05, 1.04, 1.06, 1.05, 1.04, 1.03, 1.04, 1.04],
    [1.07, 1.08, 1.07, 1.06, 1.05, 1.03, 1.05, 1.06, 1.08, 1.09, 1.07, 1.06, 1.07, 1.08, 1.06, 1.05, 1.04, 1.05, 1.06, 1.05],
    [1.04, 1.05, 1.04, 1.05, 1.06, 1.04, 1.05, 1.06, 1.05, 1.06, 1.05, 1.04, 1.05, 1.04, 1.06, 1.05, 1.06, 1.05, 1.06, 1.05],
    [1.07, 1.06, 1.07, 1.05, 1.06, 1.08, 1.09, 1.08, 1.07, 1.08, 1.05, 1.04, 1.06, 1.09, 1.07, 1.06, 1.05, 1.06, 1.05, 1.04],
    [1.07, 1.05, 1.06, 1.07, 1.05, 1.06, 1.04, 1.03, 1.04, 1.03, 1.04, 1.05, 1.06, 1.05, 1.06, 1.05, 1.04, 1.05, 1.06, 1.08],
    [1.05, 1.04, 1.06, 1.05, 1.06, 1.07, 1.06, 1.08, 1.06, 1.05, 1.06, 1.07, 1.05, 1.06, 1.05, 1.06, 1.05, 1.01, 1.03, 1.05],
    [1.07, 1.06, 1.05, 1.06, 1.05, 1.06, 1.07, 1.06, 1.07, 1.08, 1.07, 1.06, 1.07, 1.08, 1.06, 1.05, 1.06, 1.04, 1.06, 1.05],
    [1.06, 1.05, 1.06, 1.04, 1.05, 1.04, 1.05, 1.06, 1.07, 1.04, 1.01, 1.02, 1.03, 1.05, 1.04, 1.06, 1.08, 1.05, 1.04, 1.06],
    [1.06, 1.05, 1.02, 1.04, 1.05, 1.06, 1.05, 1.04, 1.05, 1.06, 1.05, 1.06, 1.07, 1.06, 1.07, 1.08, 1.07, 1.06, 1.07, 1.07],
]

# ----------------- Check the tables line up -----------------
for name, table, n in [("blue_rise", blue_rise, len(t_rise)), ("blue_tail", blue_tail, len(t_tail)),
                       ("orange_rise", orange_rise, len(t_rise)), ("orange_tail", orange_tail, len(t_tail)),
                       ("green_rise", green_rise, len(t_rise)), ("green_tail", green_tail, len(t_tail))]:
    bad = [i for i, row in enumerate(table) if len(row) != n]
    if len(table) != len(titles) or bad:
        raise ValueError(f"{name}: {len(table)} rows, wrong lengths at {bad}")

# ----------------- Plot -----------------
W, H = 3605, 5353
fig, axes = plt.subplots(10, 5, figsize=(W / 300, H / 300), dpi=300)
fig.subplots_adjust(left=87.3 / W, right=3575.1 / W, bottom=1 - 5252.6 / H, top=1 - 629.6 / H,
                    wspace=0.2, hspace=0.2)
fig.suptitle("ground_truth_3_sp_gt_8_noise_0.01", x=1774.8 / W, y=1 - 30 / H)

t = t_rise + t_tail
for i, ax in enumerate(axes.flat):
    ax.plot(t, blue_rise[i] + blue_tail[i], color="C0")
    ax.plot(t, orange_rise[i] + orange_tail[i], color="C1")
    ax.plot(t, green_rise[i] + green_tail[i], color="C2")
    ax.set_title(titles[i])
    sns.despine(ax=ax, trim=True)

fig.savefig("out.png", dpi=300)
